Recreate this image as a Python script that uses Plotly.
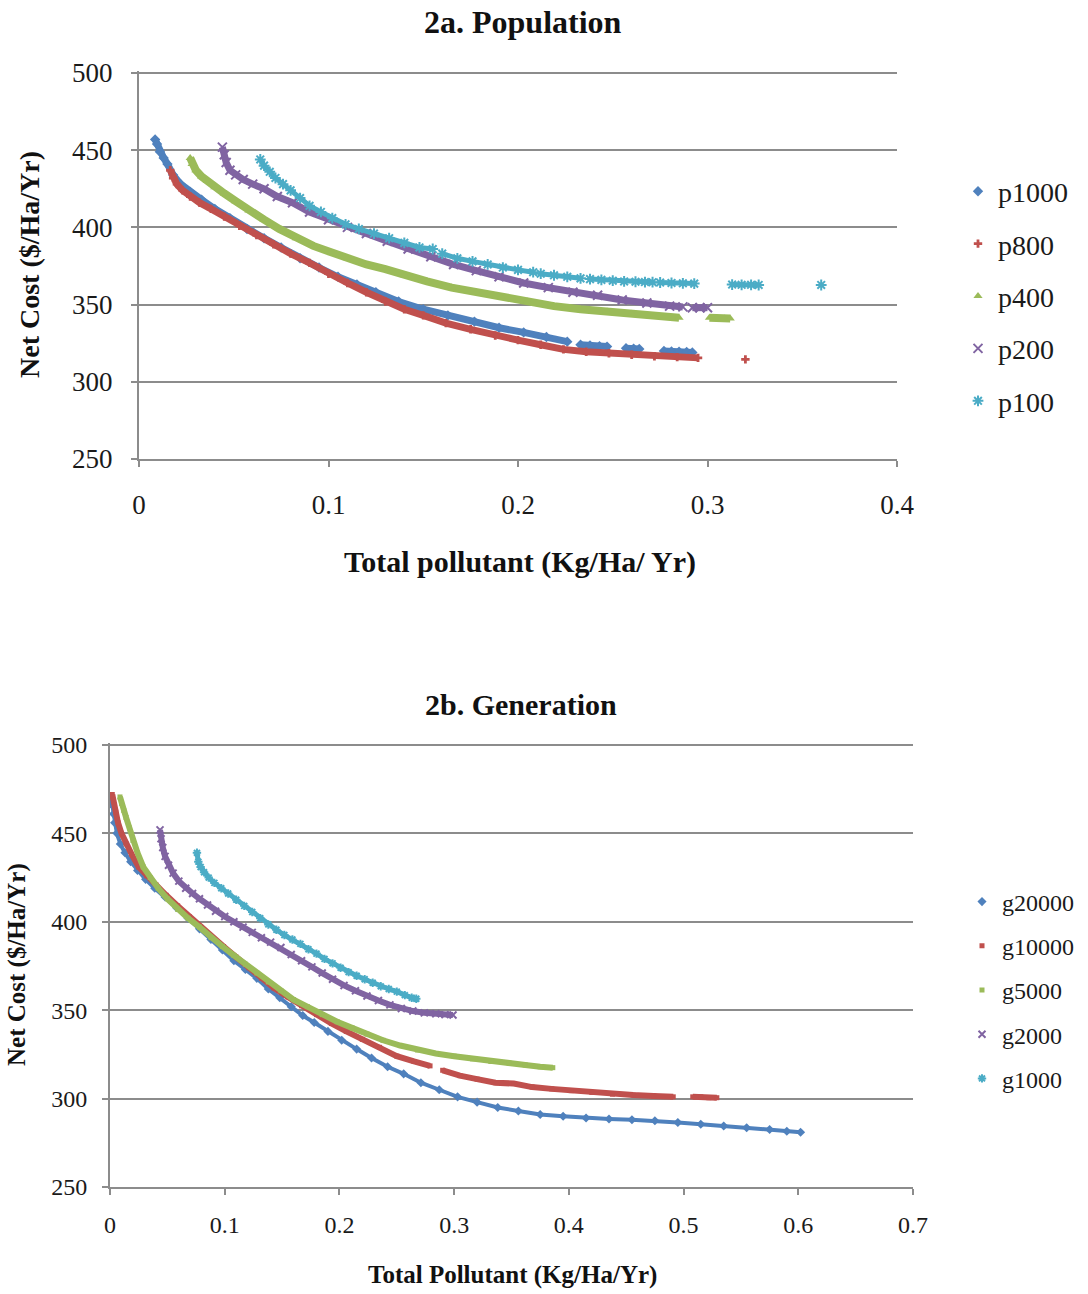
import plotly.graph_objects as go

W, H = 1088, 1294

# ---------------- 2a. Population ----------------
p1000_x = [0.0085,0.0095,0.011,0.013,0.015,0.018,0.022,0.027,0.033,0.040,0.048,0.057,0.066,0.075,0.085,0.095,0.105,0.115,0.125,0.137,0.150,0.163,0.177,0.190,0.203,0.215,0.226,None,0.233,0.238,0.243,0.247,None,0.257,0.261,0.264,None,0.277,0.281,0.285,0.289,0.292]
p1000_y = [457,454,449,445,441,434,428,423,418,412,406,399,393,387,380,374,368,363,358,352,347,343,339,335,332,329,326,None,324,323.5,323,322.8,None,321.8,321.5,321.2,None,320,319.7,319.5,319.3,319]

p800_x = [0.0165,0.018,0.020,0.023,0.027,0.032,0.038,0.045,0.053,0.062,0.071,0.080,0.090,0.100,0.110,0.120,0.130,0.140,0.150,0.162,0.175,0.188,0.200,0.212,0.224,0.236,0.248,0.260,0.272,0.284,0.295,None,0.320]
p800_y = [437,432,428,424,420,416,412,407,401,395,389,383,377,370,364,358,352,347,343,338,334,330,327,324,321,319.5,318.5,317.5,316.5,316,315.5,None,314.5]

p400_x = [0.027,0.028,0.030,0.033,0.036,0.040,0.045,0.051,0.058,0.066,0.074,0.083,0.092,0.101,0.110,0.120,0.130,0.140,0.152,0.165,0.178,0.191,0.205,0.219,0.233,0.247,0.260,0.272,0.285,None,0.301,0.305,0.309,0.312]
p400_y = [445,441,437,433,430,426,422,417,411,405,399,393,388,384,380,376,373,369,365,361,358,355,352,349,347,345.5,344,342.5,341.5,None,341.5,341.2,341,341]

p200_x = [0.044,0.045,0.046,0.048,0.051,0.055,0.060,0.066,0.073,0.081,0.090,0.100,0.110,0.120,0.131,0.142,0.154,0.166,0.178,0.190,0.203,0.216,0.229,0.242,0.255,0.268,0.280,0.287,None,0.292,0.296,0.300]
p200_y = [452,447,442,437,434,431,428,425,420,416,410,405,400,396,391,386,381,376,372,368,364,361,358,356,353,351,349,348.5,None,348,348,348]

p100_x = [0.064,0.066,0.069,0.072,0.076,0.080,0.085,0.090,0.096,0.102,0.109,0.116,0.124,0.132,0.140,0.148,0.155,None,
          0.160,0.168,0.176,0.184,0.192,0.200,0.208,None,0.212,0.219,0.226,0.233,None,
          0.238,0.244,0.250,0.256,0.262,0.267,0.271,None,0.275,0.281,0.287,0.293,None,
          0.313,0.318,0.323,0.327,None,0.360]
p100_y = [444,440,436,432,428,424,419,414,410,406,402,399,396,393,390,387,386,None,
          383,380,378,376,374,372.5,371,None,370,369,368,367,None,
          366.5,366,365.5,365,364.8,364.6,364.5,None,364.3,364,363.8,363.6,None,
          363,362.8,362.8,362.7,None,362.7]

# ---------------- 2b. Generation ----------------
g20000_x = [0.001,0.002,0.003,0.004,0.006,0.009,0.013,0.018,0.024,0.031,0.039,0.048,0.058,0.068,0.078,0.088,0.098,0.108,0.118,0.128,0.138,0.148,0.158,0.168,0.178,0.190,0.202,0.215,0.228,0.242,0.256,0.271,0.287,0.303,0.320,0.338,0.356,0.375,0.395,0.415,0.435,0.455,0.475,0.495,0.515,0.535,0.555,0.575,0.590,0.602]
g20000_y = [470,466,461,456,450,444,439,434,429,424,419,414,408,402,396,390,384,378,373,368,362,357,352,347,343,338,333,328,323,318,314,309,305,301,298,295,293,291,290,289,288.5,288,287.5,286.5,285.5,284.5,283.5,282.5,281.5,281]

g10000_x = [0.002,0.003,0.005,0.007,0.010,0.014,0.019,0.025,0.032,0.040,0.049,0.059,0.069,0.079,0.089,0.099,0.110,0.121,0.132,0.143,0.155,0.167,0.180,0.193,0.206,0.220,0.235,0.250,0.265,0.279,None,0.290,0.305,0.320,0.336,0.352,0.368,0.385,0.402,0.420,0.438,0.456,0.474,0.491,None,0.508,0.515,0.522,0.529]
g10000_y = [472,468,462,456,450,444,438,431,426,421,415,409,403,397,391,386,380,374,368,362.5,357.5,352.5,347.5,342.5,338,333.5,329,324,321,318.5,None,316,313,311,309,308.5,306.5,305.5,304.5,303.5,302.5,302,301.5,301,None,301,301,300.5,300.5]

g5000_x = [0.0087,0.010,0.012,0.014,0.017,0.020,0.024,0.029,0.035,0.042,0.050,0.059,0.068,0.078,0.088,0.098,0.108,0.118,0.128,0.138,0.149,0.160,0.172,0.185,0.198,0.211,0.224,0.238,0.253,0.268,0.284,0.300,0.316,0.332,0.348,0.362,0.375,0.386]
g5000_y = [470.6,467,463,459,453,446,439,431,425,419,413,407,402,397,391,386,381,376,371,366,361,356,352,347.5,343.5,340,336.5,333,330,327.5,325.5,324,322.5,321,320,319,318,317.5]

g2000_x = [0.0436,0.0445,0.046,0.048,0.051,0.055,0.060,0.066,0.072,0.078,0.085,0.092,0.100,0.108,0.116,0.124,0.132,0.140,0.149,0.158,0.167,0.176,0.185,0.194,0.204,0.214,0.224,0.234,0.244,0.254,0.264,0.274,0.284,0.292,0.299]
g2000_y = [452,447,442,437,432,427.5,423,419,416,413,409.5,406,403,400,397,394,391,388.5,385.5,381.5,378,374.5,371,367.5,364,361,358,355.5,353,351,349.5,348.5,348,347.5,347.3]

g1000_x = [0.0758,0.077,0.079,0.082,0.086,0.091,0.097,0.103,0.110,0.117,0.124,0.131,0.138,0.145,0.152,0.159,0.166,0.173,0.180,0.187,0.194,0.201,0.208,0.215,0.222,0.229,0.236,0.243,0.250,0.257,0.263,0.267]
g1000_y = [439,434,431,428,425,422,419,416,412.5,409,405.5,402,398.5,395.5,392.5,390,387.5,384.5,382,379,376.5,374,371.5,369.5,367.5,365.5,363.5,362,360.5,358.5,357,356.5]

xticks_a = [0, 0.1, 0.2, 0.3, 0.4]
xticks_a_txt = ["0", "0.1", "0.2", "0.3", "0.4"]
xticks_b = [0, 0.1, 0.2, 0.3, 0.4, 0.5, 0.6, 0.7]
xticks_b_txt = ["0", "0.1", "0.2", "0.3", "0.4", "0.5", "0.6", "0.7"]
yticks = [250, 300, 350, 400, 450, 500]

BLUE, RED, GREEN, PURPLE, TEAL = "#4F81BD", "#C0504D", "#9BBB59", "#8064A2", "#4BACC6"
SERIF = "Liberation Serif"
GRID = "#8c8c8c"

fig = go.Figure()


def add(name, xs, ys, color, symbol, msize, lw, xa, ya, legend, mline=0):
    fig.add_trace(go.Scatter(x=xs, y=ys, mode="lines", connectgaps=False,
                             line=dict(color=color, width=lw),
                             showlegend=False, legendgroup=name, hoverinfo="skip",
                             xaxis=xa, yaxis=ya))
    fig.add_trace(go.Scatter(x=xs, y=ys, mode="markers", name=name, legendgroup=name,
                             legend=legend,
                             marker=dict(symbol=symbol, size=msize, color=color,
                                         line=dict(width=mline, color=color)),
                             xaxis=xa, yaxis=ya))


add("p1000", p1000_x, p1000_y, BLUE, "diamond", 8, 7, "x", "y", "legend")
add("p800", p800_x, p800_y, RED, "cross", 7, 7, "x", "y", "legend")
add("p400", p400_x, p400_y, GREEN, "triangle-up", 8, 8, "x", "y", "legend")
add("p200", p200_x, p200_y, PURPLE, "x-thin", 9, 7, "x", "y", "legend", mline=2)
add("p100", p100_x, p100_y, TEAL, "asterisk-open", 9, 5, "x", "y", "legend", mline=2)

add("g20000", g20000_x, g20000_y, BLUE, "diamond", 7, 4, "x2", "y2", "legend2")
add("g10000", g10000_x, g10000_y, RED, "square", 5, 6, "x2", "y2", "legend2")
add("g5000", g5000_x, g5000_y, GREEN, "square", 5, 6, "x2", "y2", "legend2")
add("g2000", g2000_x, g2000_y, PURPLE, "x-thin", 7, 6, "x2", "y2", "legend2", mline=2)
add("g1000", g1000_x, g1000_y, TEAL, "asterisk-open", 7, 5, "x2", "y2", "legend2", mline=2)


def xax(domain, rng, tv, tt, size, standoff):
    return dict(domain=domain, range=rng, tickvals=tv, ticktext=tt, showgrid=False,
                zeroline=False, showline=True, linecolor=GRID, linewidth=2,
                ticks="outside", ticklen=6, tickwidth=2, tickcolor=GRID, automargin=False,
                tickfont=dict(family=SERIF, size=size, color="#1a1a1a"),
                ticklabelstandoff=standoff, fixedrange=True)


def yax(domain, size, standoff, anchor):
    return dict(domain=domain, range=[250, 501], tickvals=yticks, showgrid=True,
                gridcolor=GRID, gridwidth=2, zeroline=False, showline=True,
                linecolor=GRID, linewidth=2, ticks="outside", ticklen=6, tickwidth=2,
                tickcolor=GRID, anchor=anchor, automargin=False,
                tickfont=dict(family=SERIF, size=size, color="#1a1a1a"),
                ticklabelstandoff=standoff, fixedrange=True)


fig.update_layout(
    width=W, height=H, autosize=False,
    margin=dict(l=0, r=0, t=0, b=0, pad=0, autoexpand=False),
    paper_bgcolor="white", plot_bgcolor="white",
    xaxis=xax([139 / W, 897 / W], [0, 0.4], xticks_a, xticks_a_txt, 27, 15) | dict(anchor="y"),
    yaxis=yax([1 - 459 / H, 1 - 71.45 / H], 27, 13, "x"),
    xaxis2=xax([110 / W, 913 / W], [0, 0.7], xticks_b, xticks_b_txt, 24, 9) | dict(anchor="y2"),
    yaxis2=yax([1 - 1187 / H, 1 - 743.2 / H], 24, 10, "x2"),
    legend=dict(x=958 / W, y=1 - 296 / H, xanchor="left", yanchor="middle",
                font=dict(family=SERIF, size=28, color="#1a1a1a"),
                tracegroupgap=13, bgcolor="rgba(0,0,0,0)", itemsizing="trace"),
    legend2=dict(x=962 / W, y=1 - 990 / H, xanchor="left", yanchor="middle",
                 font=dict(family=SERIF, size=24, color="#1a1a1a"),
                 tracegroupgap=10, bgcolor="rgba(0,0,0,0)", itemsizing="trace"),
)


def ann(text, px, py, size, angle=0):
    fig.add_annotation(text=text, x=px / W, y=1 - py / H, xref="paper", yref="paper",
                       xanchor="center", yanchor="middle", showarrow=False, textangle=angle,
                       font=dict(family=SERIF, size=size, color="#111111", weight="bold"))


ann("2a. Population", 523, 22, 32)
ann("Net Cost ($/Ha/Yr)", 30, 265, 28, -90)
ann("Total pollutant (Kg/Ha/ Yr)", 520, 562, 30)
ann("2b. Generation", 521, 704, 30)
ann("Net Cost ($/Ha/Yr)", 17, 965, 25, -90)
ann("Total Pollutant (Kg/Ha/Yr)", 512, 1275, 25)

fig.write_html("out.html")
